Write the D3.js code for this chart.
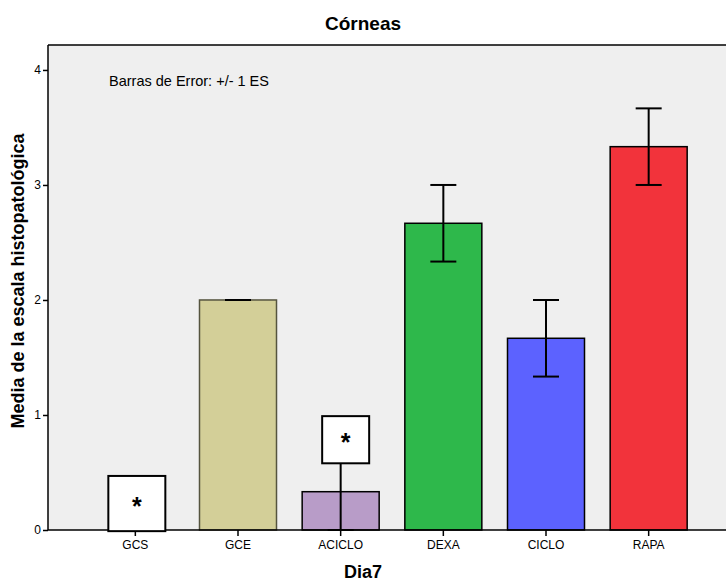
<!DOCTYPE html>
<html><head><meta charset="utf-8">
<script src="https://cdn.jsdelivr.net/npm/d3@7/dist/d3.min.js"></script>
<style>body{margin:0;background:#fff}svg{display:block}text{font-family:"Liberation Sans",Arial,sans-serif}</style>
</head><body><svg id="c" width="726" height="583"></svg>
<script>
const categories = ["GCS","GCE","ACICLO","DEXA","CICLO","RAPA"];
const means = [0, 2.0, 0.333, 2.667, 1.667, 3.333];
const errors = [0, 0, 0.333, 0.333, 0.333, 0.333];
const fills = ["#ffffff","#d3cf98","#b89cc8","#2eb84b","#5c62ff","#f2333b"];
const strokes = ["#000000","#55543f","#000000","#000000","#000000","#000000"];
const yTicks = [0,1,2,3,4];
// boxed asterisk labels: category, bottom value, top value
const starCats = ["GCS","ACICLO"];
const starLow = [-0.01, 0.58];
const starHigh = [0.47, 0.99];

const svg = d3.select("#c");
const L = 48, R = 736, T = 45, B = 530;
const x = d3.scaleBand().domain(categories).range([84, 700]).paddingInner(0.25).paddingOuter(0.125);
const y = d3.scaleLinear().domain([0, 4.217]).range([B, T]);

svg.append("rect").attr("x", L).attr("y", T).attr("width", R - L).attr("height", B - T).attr("fill", "#efefef");

// bars
svg.selectAll("rect.bar").data(categories).join("rect").attr("class","bar")
  .attr("x", d => x(d)).attr("width", x.bandwidth())
  .attr("y", (d,i) => y(means[i])).attr("height", (d,i) => B - y(means[i]))
  .attr("fill", (d,i) => fills[i]).attr("stroke", (d,i) => strokes[i]).attr("stroke-width", 1.5);

// error bars
const cap = 13;
const eb = svg.append("g").attr("stroke", "#000").attr("stroke-width", 2);
categories.forEach((c,i) => {
  const cx = x(c) + x.bandwidth()/2;
  const lo = y(means[i]-errors[i]), hi = y(means[i]+errors[i]);
  eb.append("line").attr("x1", cx).attr("x2", cx).attr("y1", lo).attr("y2", hi);
  eb.append("line").attr("x1", cx-cap).attr("x2", cx+cap).attr("y1", lo).attr("y2", lo);
  eb.append("line").attr("x1", cx-cap).attr("x2", cx+cap).attr("y1", hi).attr("y2", hi);
});

// frame
svg.append("line").attr("x1", L).attr("x2", L).attr("y1", T).attr("y2", B).attr("stroke","#000").attr("stroke-width",1.5);
svg.append("line").attr("x1", L).attr("x2", R).attr("y1", T).attr("y2", T).attr("stroke","#000").attr("stroke-width",1.5);

// axes
const yAxis = svg.append("g").attr("transform", `translate(${L},0)`)
  .call(d3.axisLeft(y).tickValues(yTicks).tickFormat(d3.format("d")).tickSize(5).tickPadding(2));
yAxis.select(".domain").remove();
yAxis.selectAll("text").attr("font-size", 12).attr("fill","#000");
yAxis.selectAll("line").attr("stroke","#000").attr("stroke-width",1.5);

const xAxis = svg.append("g").attr("transform", `translate(0,${B})`)
  .call(d3.axisBottom(x).tickSize(6).tickPadding(4));
xAxis.select(".domain").remove();
xAxis.selectAll("text").attr("font-size", 12).attr("fill","#000");
xAxis.selectAll("line").attr("stroke","#000").attr("stroke-width",1.5);
svg.append("line").attr("x1", L).attr("x2", R).attr("y1", B).attr("y2", B).attr("stroke","#000").attr("stroke-width",1.5);

// boxed asterisks
starCats.forEach((c,i) => {
  const cx = x(c) + x.bandwidth()/2 + (i === 0 ? 1.5 : 5);
  const w = i === 0 ? 57 : 47;
  const top = y(starHigh[i]), bot = y(starLow[i]);
  svg.append("rect").attr("x", cx - w/2).attr("y", top).attr("width", w).attr("height", bot - top)
    .attr("fill","#fff").attr("stroke","#000").attr("stroke-width",2);
  svg.append("text").attr("x", cx).attr("y", (top+bot)/2 + 11).attr("text-anchor","middle")
    .attr("font-size", 25).attr("font-weight","bold").text("*");
});

// texts
svg.append("text").attr("x", 363).attr("y", 30).attr("text-anchor","middle")
  .attr("font-size", 19).attr("font-weight","bold").text("Córneas");
svg.append("text").attr("x", 109).attr("y", 86).attr("font-size", 14.5).text("Barras de Error: +/- 1 ES");
svg.append("text").attr("x", 363).attr("y", 578).attr("text-anchor","middle")
  .attr("font-size", 18).attr("font-weight","bold").text("Dia7");
svg.append("text").attr("transform", "translate(24,281) rotate(-90)").attr("text-anchor","middle")
  .attr("font-size", 18).attr("font-weight","bold").text("Media de la escala histopatológica");
</script></body></html>
